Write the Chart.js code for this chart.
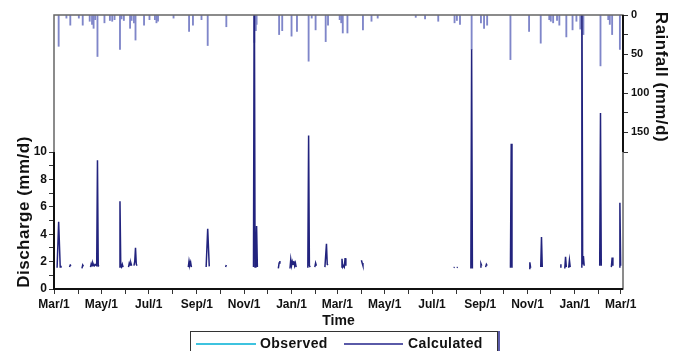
<!DOCTYPE html>
<html>
<head>
<meta charset="utf-8">
<script src="https://cdn.jsdelivr.net/npm/chart.js@4/dist/chart.umd.min.js"></script>
<style>
  body { margin: 0; background: #fff; }
  #wrap { position: relative; width: 688px; height: 351px; overflow: hidden; font-family: "Liberation Sans", Arial, sans-serif; }
  #legend { position: absolute; left: 190px; top: 331px; width: 306px; height: 28px; border: 1.5px solid #333;
            box-shadow: 2px 0 0 #5a5aa8; background: #fff; font-weight: bold; font-size: 14px; color: #111; }
  #legend .ln { position: absolute; top: 11px; height: 2px; }
  #legend .tx { position: absolute; top: 3px; letter-spacing: 0.4px; }
</style>
</head>
<body>
<div id="wrap">
  <canvas id="chart" width="688" height="351"></canvas>
  <div id="legend">
    <div class="ln" style="left:5px;width:60px;background:#3ec3df"></div>
    <div class="tx" style="left:69px">Observed</div>
    <div class="ln" style="left:153px;width:59px;background:#5a5aa8"></div>
    <div class="tx" style="left:217px">Calculated</div>
  </div>
</div>
<script>
// days counted from the first Mar/1
const monthDays = [0, 31, 61, 92, 122, 153, 184, 214, 245, 275, 306, 337,
                   365, 396, 426, 457, 487, 518, 549, 579, 610, 640, 671, 702, 730];
const monthLabels = ['Mar/1', 'Apr/1', 'May/1', 'Jun/1', 'Jul/1', 'Aug/1', 'Sep/1', 'Oct/1', 'Nov/1', 'Dec/1', 'Jan/1', 'Feb/1',
                     'Mar/1', 'Apr/1', 'May/1', 'Jun/1', 'Jul/1', 'Aug/1', 'Sep/1', 'Oct/1', 'Nov/1', 'Dec/1', 'Jan/1', 'Feb/1', 'Mar/1'];

const rainDays = [6, 16, 21, 32, 37, 46, 49, 51, 53, 56, 65, 72, 75, 78, 85, 87, 90, 98, 100, 103, 105, 116, 123, 130, 132, 134,
                  154, 174, 179, 190, 198, 222, 258, 260, 261, 290, 294, 306, 313, 328, 332, 337, 350, 353, 368, 370, 372, 378,
                  398, 409, 417, 466, 478, 495, 516, 519, 523, 538, 550, 554, 558, 588, 612, 627, 638, 640, 643, 648, 651, 660,
                  668, 673, 678, 682, 704, 714, 716, 719, 729];
const rainMm = [40, 4, 13, 4, 13, 8, 12, 17, 6, 53, 10, 7, 8, 6, 44, 5, 7, 17, 7, 10, 32, 13, 6, 6, 10, 8,
                4, 21, 13, 6, 39, 15, 35, 20, 12, 25, 20, 27, 21, 59, 4, 19, 34, 13, 6, 10, 23, 23,
                19, 8, 4, 3, 5, 8, 10, 7, 12, 44, 10, 17, 13, 57, 21, 36, 6, 8, 10, 7, 13, 28,
                19, 8, 18, 25, 65, 6, 12, 25, 44];

// calculated discharge, null breaks the line
const qDays = [4, 6, 8, 9, 10, 20, 21, 22, 25, 36, 37, 38, 42,
               47, 48, 49, 50, 51, 52, 53, 55, 56, 57, 58, 60,
               84, 85, 86, 87, 88, 89, 92, 96, 97, 98, 99, 100, 101,
               103, 104, 105, 106, 107, 110, 173, 174, 175, 176, 177, 180,
               196, 198, 200, 205, 221, 222, 225,
               257, 258, 259, 260, 261, 262, 265, 289, 290, 291, 296,
               304, 305, 306, 307, 308, 309, 310, 311, 312, 318,
               326, 327, 328, 329, 330, 333, 336, 337, 338, 343,
               349, 351, 352, 353, 360, 370, 371, 372, 373, 374, 375, 376, 385,
               396, 397, 398, 405, 515, 516, 517, 519, 520, 530,
               537, 538, 539, 545, 549, 550, 551, 553, 556, 557, 558, 570,
               588, 589, 590, 600, 612, 613, 614, 620, 627, 628, 629, 640,
               652, 653, 656, 658, 659, 660, 661, 663, 664, 665, 670,
               679, 680, 681, 682, 683, 690, 703, 704, 705, 710,
               718, 719, 720, 724, 728, 729, 730];
const qMm = [1.55, 4.9, 1.6, 1.7, null, 1.6, 1.75, 1.7, null, 1.5, 1.75, 1.65, null,
             1.6, 1.85, 1.7, 1.9, 1.75, 1.7, 1.8, 1.7, 9.4, 1.7, 1.65, null,
             1.6, 6.4, 1.7, 1.6, 1.8, 1.6, null, 1.6, 1.9, 1.75, 1.9, 1.7, null,
             1.7, 2.0, 3.0, 1.8, 1.7, null, 1.6, 2.05, 1.75, 1.95, 1.6, null,
             1.6, 4.4, 1.65, null, 1.6, 1.75, null,
             1.6, 25, 1.6, 1.7, 4.6, 1.6, null, 1.5, 1.9, 2.05, null,
             1.5, 2.15, 1.7, 2.0, 1.8, 2.05, 1.7, 1.9, 1.6, null,
             1.6, 1.8, 11.2, 1.7, 1.6, null, 1.6, 1.9, 1.7, null,
             1.6, 3.3, 1.8, 1.75, null, 1.6, 2.2, 1.6, 1.7, 1.6, 2.25, 1.7, null,
             2.1, 1.9, 1.7, null, 1.55, 1.6, null, 1.55, 1.6, null,
             1.5, 17.5, 1.5, null, 1.6, 1.85, 1.7, null, 1.6, 1.8, 1.7, null,
             1.55, 10.6, 1.55, null, 1.5, 1.95, 1.55, null, 1.6, 3.8, 1.6, null,
             1.6, 1.8, null, 1.5, 2.35, 1.6, null, 1.55, 2.1, 1.6, null,
             1.6, 25, 1.8, 2.4, 1.7, null, 1.7, 12.85, 1.7, null,
             1.6, 2.3, 1.7, null, 1.6, 6.3, 1.7];

const qTicks = [0, 1, 2, 3, 4, 5, 6, 7, 8, 9, 10];
const rainTicks = [0, 25, 50, 75, 100, 125, 150, 175];

const FONT = '"Liberation Sans", Arial, sans-serif';
const tickFont = { family: FONT, size: 12, weight: 'bold' };

const frame = {
    id: 'frame',
    afterDraw(chart) {
        const { ctx, chartArea: a, scales } = chart;
        ctx.save();
        ctx.strokeStyle = '#666';
        ctx.lineWidth = 1.5;
        ctx.strokeRect(a.left, a.top, a.right - a.left, a.bottom - a.top);
        ctx.strokeStyle = '#111';
        ctx.lineWidth = 2;
        ctx.beginPath();
        ctx.moveTo(a.left, scales.y.getPixelForValue(10));
        ctx.lineTo(a.left, a.bottom);
        ctx.lineTo(a.right, a.bottom);
        ctx.moveTo(a.right, a.top);
        ctx.lineTo(a.right, scales.yR.getPixelForValue(175));
        ctx.stroke();

        ctx.fillStyle = '#111';
        ctx.font = 'bold 17px ' + FONT;
        ctx.letterSpacing = '0.5px';
        ctx.textAlign = 'center';
        ctx.textBaseline = 'middle';
        ctx.save();
        ctx.translate(24, 212);
        ctx.rotate(-Math.PI / 2);
        ctx.fillText('Discharge (mm/d)', 0, 0);
        ctx.restore();
        ctx.save();
        ctx.translate(661, 77);
        ctx.rotate(Math.PI / 2);
        ctx.fillText('Rainfall (mm/d)', 0, 0);
        ctx.restore();
        ctx.letterSpacing = '0px';
        ctx.font = 'bold 14px ' + FONT;
        ctx.fillText('Time', (a.left + a.right) / 2, 321);
        ctx.restore();
    }
};

new Chart(document.getElementById('chart'), {
    data: {
        datasets: [{
            type: 'line',
            label: 'Calculated',
            data: qDays.map((d, i) => ({ x: d, y: qMm[i] })),
            xAxisID: 'x',
            yAxisID: 'y',
            borderColor: '#22237e',
            borderWidth: 1.5,
            pointRadius: 0,
            tension: 0,
            spanGaps: false,
            order: 1
        }, {
            type: 'bar',
            label: 'Rainfall',
            data: rainDays.map((d, i) => ({ x: d, y: rainMm[i] })),
            xAxisID: 'x',
            yAxisID: 'yR',
            backgroundColor: '#7f86c9',
            barThickness: 1.2,
            order: 2
        }]
    },
    options: {
        responsive: false,
        animation: false,
        layout: { padding: { top: 15, left: 0, right: 0, bottom: 0 } },
        plugins: { legend: { display: false }, tooltip: { enabled: false } },
        scales: {
            x: {
                type: 'linear',
                offset: false,
                min: 0,
                max: 733,
                afterBuildTicks: s => { s.ticks = monthDays.map(v => ({ value: v })); },
                afterFit: s => { s.height = 62; },
                ticks: {
                    autoSkip: false,
                    maxRotation: 0,
                    padding: 3,
                    color: '#111',
                    font: tickFont,
                    callback: (v, i) => (i % 2 === 0 ? monthLabels[i] : '')
                },
                grid: { offset: false, drawOnChartArea: false, tickLength: 5, tickColor: '#333', tickWidth: 1 },
                border: { display: false }
            },
            y: {
                type: 'linear',
                position: 'left',
                min: 0,
                max: 20,
                afterBuildTicks: s => { s.ticks = qTicks.map(v => ({ value: v })); },
                afterFit: s => { s.width = 54; },
                ticks: {
                    padding: 2,
                    color: '#111',
                    font: tickFont,
                    callback: v => (v % 2 === 0 ? v : '')
                },
                grid: { drawOnChartArea: false, tickLength: 5, tickColor: '#333', tickWidth: 1 },
                border: { display: false }
            },
            yR: {
                type: 'linear',
                position: 'right',
                reverse: true,
                min: 0,
                max: 350,
                afterBuildTicks: s => { s.ticks = rainTicks.map(v => ({ value: v })); },
                afterFit: s => { s.width = 65; },
                ticks: {
                    padding: 3,
                    color: '#111',
                    font: { family: FONT, size: 11, weight: 'bold' },
                    callback: v => (v % 50 === 0 ? v : '')
                },
                grid: { drawOnChartArea: false, tickLength: 5, tickColor: '#333', tickWidth: 1 },
                border: { display: false }
            }
        }
    },
    plugins: [frame]
});
</script>
</body>
</html>
